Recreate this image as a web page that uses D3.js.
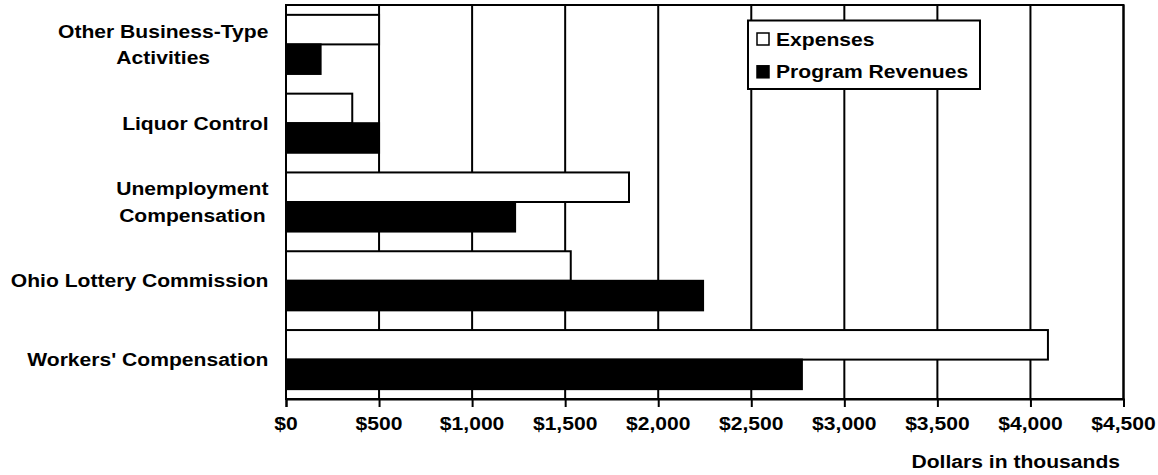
<!DOCTYPE html>
<html lang="en">
<head>
    <meta charset="UTF-8">
    <title>Business-Type Activities</title>
    <script src="https://cdn.jsdelivr.net/npm/d3@7/dist/d3.min.js"></script>
    <style>
        body { margin: 0; background: #fff; }
        text { font-family: "Liberation Sans", Arial, sans-serif; font-weight: bold; font-size: 18.5px; fill: #000; }
    </style>
</head>
<body>
    <svg width="1158" height="475"></svg>
    <script>
        // values in thousands of dollars
        const categories = [
            ["Other Business-Type", "Activities"],
            ["Liquor Control"],
            ["Unemployment", "Compensation"],
            ["Ohio Lottery Commission"],
            ["Workers' Compensation"]
        ];
        const seriesNames = ["Expenses", "Program Revenues"];
        const expenses = [500, 356, 1843, 1530, 4094];
        const revenues = [186, 500, 1231, 2241, 2772];
        const tickValues = [0, 500, 1000, 1500, 2000, 2500, 3000, 3500, 4000, 4500];

        const svg = d3.select("svg");
        const sx = 1.14; // source text is stretched horizontally
        const plotL = 286, plotR = 1123.5, plotT = 5, plotB = 399;

        const x = d3.scaleLinear().domain([0, 4500]).range([plotL, plotR]);
        const y = d3.scaleBand()
            .domain(d3.range(categories.length))
            .range([plotT, plotB])
            .paddingInner(0.25)
            .paddingOuter(0.125);
        const ySub = d3.scaleBand().domain([0, 1]).range([0, y.bandwidth()]);

        const txt = (g, px, py, s, anchor) => g.append("text")
            .attr("transform", `translate(${px},${py}) scale(${sx},1)`)
            .attr("text-anchor", anchor)
            .text(s);

        // grid lines
        svg.append("g")
            .selectAll("line")
            .data(tickValues.slice(1))
            .join("line")
            .attr("x1", d => x(d)).attr("x2", d => x(d))
            .attr("y1", plotT).attr("y2", plotB)
            .attr("stroke", "#000").attr("stroke-width", 2);

        // plot border
        svg.append("rect")
            .attr("x", plotL).attr("y", plotT)
            .attr("width", plotR - plotL).attr("height", plotB - plotT)
            .attr("fill", "none").attr("stroke", "#000").attr("stroke-width", 2);

        // bars
        const rows = categories.map((c, i) => ({ i, vals: [expenses[i], revenues[i]] }));
        svg.append("g")
            .selectAll("g")
            .data(rows)
            .join("g")
            .attr("transform", d => `translate(0,${y(d.i)})`)
            .selectAll("rect")
            .data(d => d.vals)
            .join("rect")
            .attr("x", x(0))
            .attr("y", (d, j) => ySub(j))
            .attr("width", d => x(d) - x(0))
            .attr("height", ySub.bandwidth())
            .attr("fill", (d, j) => j === 0 ? "#fff" : "#000")
            .attr("stroke", "#000")
            .attr("stroke-width", 2);

        // x axis
        const axis = svg.append("g")
            .attr("transform", `translate(0,${plotB})`)
            .call(d3.axisBottom(x).tickValues(tickValues).tickSize(8).tickFormat(() => ""));
        axis.select(".domain").attr("stroke-width", 2);
        axis.selectAll(".tick line").attr("stroke-width", 2);
        const fmt = d3.format(",");
        tickValues.forEach(v => txt(svg, x(v), 430, "$" + fmt(v), "middle"));

        txt(svg, 1120, 467.5, "Dollars in thousands", "end");

        // category labels
        const labelRight = 268.5;
        categories.forEach((lines, i) => {
            const cy = y(i) + y.bandwidth() / 2;
            if (lines.length === 1) {
                txt(svg, labelRight, cy + 6.6, lines[0], "end");
            } else {
                const tmp = svg.append("text").text(lines[0]);
                const w = tmp.node().getComputedTextLength() * sx;
                tmp.remove();
                const cx = labelRight - w / 2;
                lines.forEach((s, k) => txt(svg, cx, cy - 6.7 + k * 26.7, s, "middle"));
            }
        });

        // legend
        const lg = svg.append("g");
        lg.append("rect")
            .attr("x", 748).attr("y", 20.5)
            .attr("width", 232).attr("height", 68.5)
            .attr("fill", "#fff").attr("stroke", "#000").attr("stroke-width", 2);
        seriesNames.forEach((s, k) => {
            const by = 45.5 + k * 32.8;
            lg.append("rect")
                .attr("x", 757).attr("y", by - 12.5)
                .attr("width", 12).attr("height", 12)
                .attr("fill", k === 0 ? "#fff" : "#000")
                .attr("stroke", "#000").attr("stroke-width", 1.5);
            txt(lg, 776, by, s, "start");
        });
    </script>
</body>
</html>
